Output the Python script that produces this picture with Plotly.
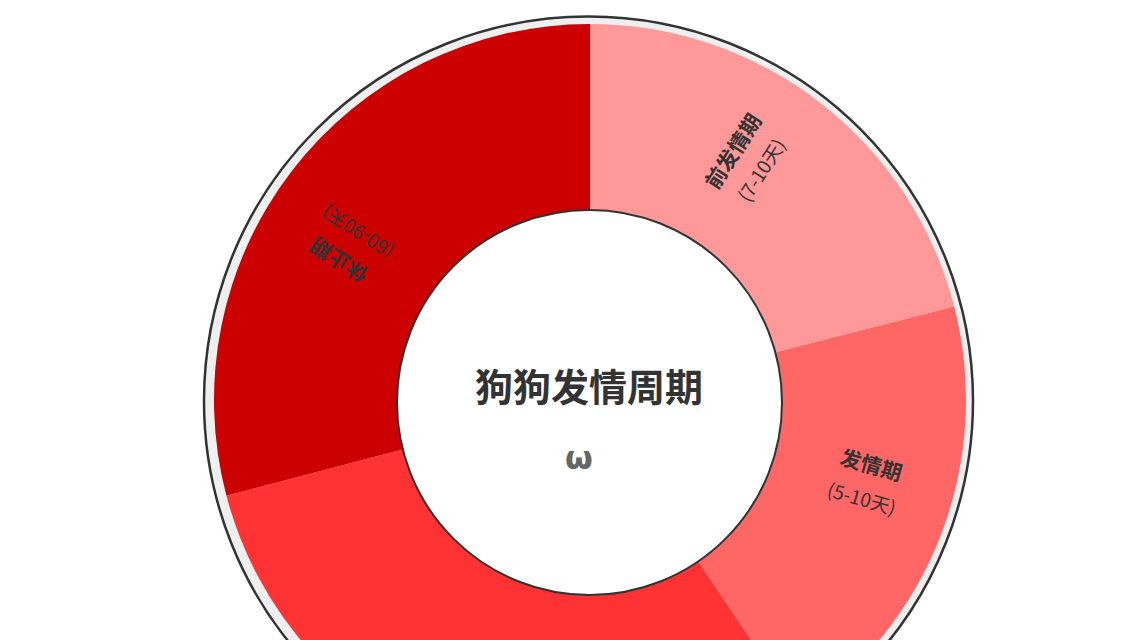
import math
import plotly.graph_objects as go

# 狗狗发情周期 - donut, slices clockwise from 12 o'clock
stages = ["前发情期", "发情期", "间情期", "休止期"]
durations = ["(7-10天)", "(5-10天)", "(60-90天)", "(60-90天)"]
shares = [21.0, 19.6, 30.3, 29.1]
colors = ["#FF9999", "#FF6666", "#FF3333", "#CC0000"]
# third slice label sits below the visible window in the reference
show_label = [True, True, False, True]

W, H = 1142, 800          # page is taller than the window, bottom is cut off
cx, cy, r = 590, 400, 376  # pie centre / radius in px


def px(x, y):
    return x / W, 1 - y / H


fig = go.Figure()
fig.add_trace(go.Pie(
    labels=stages,
    values=shares,
    sort=False,
    direction="clockwise",
    rotation=0,
    hole=0.5,
    marker=dict(colors=colors, line=dict(width=0)),
    textinfo="none",
    hoverinfo="label+percent",
    showlegend=False,
    domain=dict(x=[(cx - r) / W, (cx + r) / W], y=[1 - (cy + r) / H, 1 - (cy - r) / H]),
))

shapes = []
# grey ring behind the pie
x0, y0 = px(588.5 - 384.5, 401 - 384.5)
x1, y1 = px(588.5 + 384.5, 401 + 384.5)
shapes.append(dict(type="circle", xref="paper", yref="paper", x0=x0, y0=y1, x1=x1, y1=y0,
                   fillcolor="#efefef", line=dict(color="#333333", width=2.5), layer="below"))
# white centre
x0, y0 = px(589.5 - 192.5, 402.5 - 192.5)
x1, y1 = px(589.5 + 192.5, 402.5 + 192.5)
shapes.append(dict(type="circle", xref="paper", yref="paper", x0=x0, y0=y1, x1=x1, y1=y0,
                   fillcolor="white", line=dict(color="#333333", width=2), layer="above"))

annotations = []
total = sum(shares)
start = 0
font = "Noto Sans CJK SC, Noto Sans, sans-serif"
for name, dur, v, show in zip(stages, durations, shares, show_label):
    span = v / total * 360
    a = start + span / 2 - 5
    start += span
    if not show:
        continue
    ar = math.radians(a)
    bx = 590 + 288 * math.sin(ar)
    by = 402 - 288 * math.cos(ar)
    t = a - 90
    tr = math.radians(t)
    dx, dy = -math.sin(tr), math.cos(tr)
    lx, ly = px(bx - 17 * dx, by - 17 * dy)
    annotations.append(dict(x=lx, y=ly, xref="paper", yref="paper", text="<b>" + name + "</b>",
                            showarrow=False, textangle=t, xanchor="center", yanchor="middle",
                            font=dict(family=font, size=21, color="#333333")))
    lx, ly = px(bx + 17 * dx, by + 17 * dy)
    annotations.append(dict(x=lx, y=ly, xref="paper", yref="paper", text=dur,
                            showarrow=False, textangle=t, xanchor="center", yanchor="middle",
                            font=dict(family=font, size=19, color="#333333")))

tx, ty = px(589, 385)
annotations.append(dict(x=tx, y=ty, xref="paper", yref="paper", text="<b>狗狗发情周期</b>",
                        showarrow=False, xanchor="center", yanchor="middle",
                        font=dict(family=font, size=38, color="#333333")))
tx, ty = px(579, 458)
annotations.append(dict(x=tx, y=ty, xref="paper", yref="paper", text="<b>ω</b>",
                        showarrow=False, xanchor="center", yanchor="middle",
                        font=dict(family="DejaVu Sans", size=32, color="#666666")))

fig.update_layout(
    width=W, height=H,
    margin=dict(l=0, r=0, t=0, b=0),
    paper_bgcolor="white",
    plot_bgcolor="white",
    shapes=shapes,
    annotations=annotations,
)

fig.write_html("out.html", config={"displayModeBar": False}, post_script=(
    "document.body.style.margin='0';"
    "document.body.style.overflow='hidden';"
    "document.documentElement.style.overflow='hidden';"
))
